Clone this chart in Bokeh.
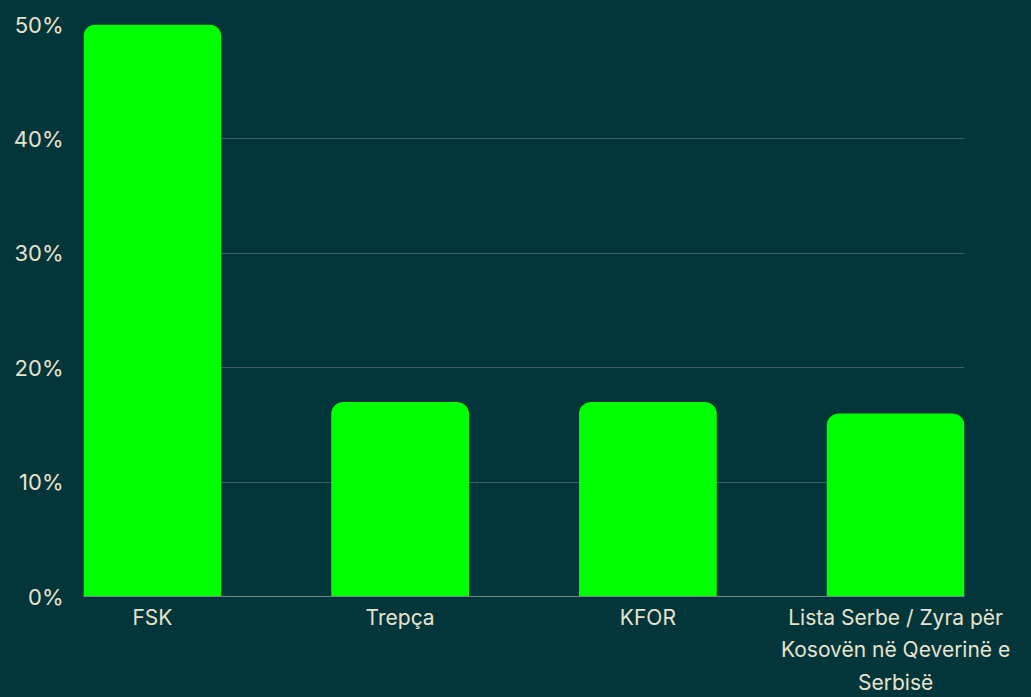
from bokeh.plotting import figure
from bokeh.models import FixedTicker, PrintfTickFormatter, Range1d, ColumnDataSource
from bokeh.embed import file_html
from bokeh.resources import INLINE

categories = ["FSK", "Trepça", "KFOR", "Lista Serbe / Zyra për\nKosovën në Qeverinë e\nSerbisë"]
values = [50, 17, 17, 16]
y_ticks = [0, 10, 20, 30, 40, 50]

BG = "#03363a"
BAR = "#00ff00"
TXT = "#e8e3cf"
GRID = "#3e5f5f"
FONT = "Inter"

xs = list(range(len(categories)))
bw = 0.556
src = ColumnDataSource(dict(x=xs, top=values))

p = figure(width=1031, height=697, output_backend="svg", toolbar_location=None,
           x_range=Range1d(-bw / 2, len(categories) - 1 + bw / 2),
           y_range=Range1d(0, 50),
           min_border_left=83, min_border_right=67, min_border_top=24, min_border_bottom=100)
p.background_fill_color = BG
p.border_fill_color = BG
p.outline_line_color = None

p.vbar(x="x", top="top", width=bw, source=src, fill_color=BAR, line_color=None,
       border_radius=(12, 12, 0, 0))

p.xgrid.visible = False
p.ygrid.grid_line_color = GRID
p.ygrid.grid_line_width = 1
p.ygrid.ticker = FixedTicker(ticks=y_ticks)

p.yaxis.ticker = FixedTicker(ticks=y_ticks)
p.yaxis.formatter = PrintfTickFormatter(format="%d%%")
p.yaxis.axis_line_color = None
p.yaxis.major_tick_line_color = None
p.yaxis.minor_tick_line_color = None
p.yaxis.major_label_text_color = TXT
p.yaxis.major_label_text_font = FONT
p.yaxis.major_label_text_font_size = "22px"
p.yaxis.major_label_standoff = 14

p.xaxis.ticker = FixedTicker(ticks=xs)
p.xaxis.major_label_overrides = {i: c for i, c in zip(xs, categories)}
p.xaxis.axis_line_color = "#6f8985"
p.xaxis.major_tick_line_color = None
p.xaxis.minor_tick_line_color = None
p.xaxis.major_label_text_color = TXT
p.xaxis.major_label_text_font = FONT
p.xaxis.major_label_text_font_size = "21px"
p.xaxis.major_label_text_line_height = 1.3
p.xaxis.major_label_standoff = 2

html = file_html(p, INLINE)
html = html.replace("<head>", "<head><style>html,body{margin:0;padding:0;overflow:hidden;background:%s;}</style>" % BG, 1)
open("out.html", "w").write(html)
